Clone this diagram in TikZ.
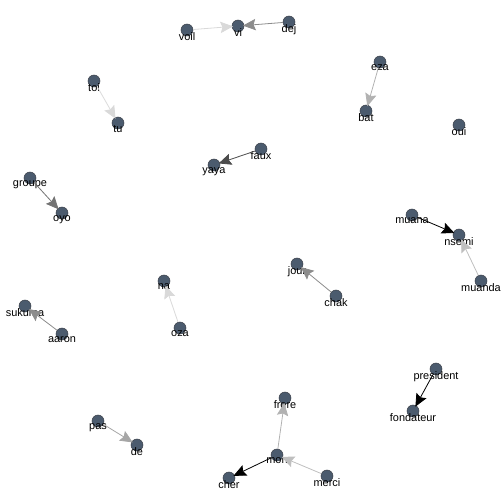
\documentclass[tikz,border=0pt]{standalone}
\usepackage{fontspec}
\setmainfont{Liberation Sans}
\usepackage{tikz}
\usetikzlibrary{arrows.meta}
\definecolor{vfill}{HTML}{4B5B6E}
\definecolor{vline}{HTML}{3A3F48}
\tikzset{every picture/.style={line width=0.75pt}}
\tikzset{vert/.style={circle,fill=vfill,draw=vline,line width=0.4pt,minimum size=9pt,inner sep=0pt},
	lbl/.style={font=\fontsize{8.2}{9}\selectfont,inner sep=0pt,text=black},
	every label/.style={lbl},
	label distance=-3.4pt,
	arr/.style={-{Stealth[length=9.5pt,width=8.5pt,inset=1.5pt]},line width=0.6pt,shorten >=-1pt}}

\begin{document}
\begin{tikzpicture}[x=0.75pt,y=0.75pt,yscale=-1,xscale=1]
		\useasboundingbox (0,0) rectangle (504,504);
		
		% Vertices
		\node [vert,label=below:voil] (voil) at (187,30) {};
		\node [vert,label=below:vi] (vi) at (238,26) {};
		\node [vert,label=below:dej] (dej) at (289,22) {};
		\node [vert,label=below:toi] (toi) at (94,81) {};
		\node [vert,label=below:tu] (tu) at (118,123) {};
		\node [vert,label=below:faux] (faux) at (261,149) {};
		\node [vert,label=below:yaya] (yaya) at (214,165) {};
		\node [vert,label=below:groupe] (groupe) at (30,178) {};
		\node [vert,label=below:oyo] (oyo) at (62,213) {};
		\node [vert,label=below:eza] (eza) at (380,62) {};
		\node [vert,label=below:bat] (bat) at (366,111) {};
		\node [vert,label=below:oui] (oui) at (459,125) {};
		\node [vert,label=below:muana] (muana) at (412,215) {};
		\node [vert,label=below:nsemi] (nsemi) at (459,235) {};
		\node [vert,label=below:muanda] (muanda) at (481,281) {};
		\node [vert,label=below:sukuma] (sukuma) at (25,306) {};
		\node [vert,label=below:aaron] (aaron) at (62,334) {};
		\node [vert,label=below:na] (na) at (164,281) {};
		\node [vert,label=below:oza] (oza) at (180,328) {};
		\node [vert,label=below:jour] (jour) at (297,264) {};
		\node [vert,label=below:chak] (chak) at (336,296) {};
		\node [vert,label=below:pas] (pas) at (98,421) {};
		\node [vert,label=below:de] (de) at (137,445) {};
		\node [vert,label=below:frere] (frere) at (285,398) {};
		\node [vert,label=below:mon] (mon) at (277,455) {};
		\node [vert,label=below:cher] (cher) at (229,478) {};
		\node [vert,label=below:merci] (merci) at (327,476) {};
		\node [vert,label=below:president] (president) at (436,369) {};
		\node [vert,label=below:fondateur] (fondateur) at (413,411) {};
		
		% Edges
		\draw [arr,black!15] (voil) -- (vi);
		\draw [arr,black!45] (dej) -- (vi);
		\draw [arr,black!15] (toi) -- (tu);
		\draw [arr,black!70] (faux) -- (yaya);
		\draw [arr,black!55] (groupe) -- (oyo);
		\draw [arr,black!30] (eza) -- (bat);
		\draw [arr,black] (muana) -- (nsemi);
		\draw [arr,black!25] (muanda) -- (nsemi);
		\draw [arr,black!45] (aaron) -- (sukuma);
		\draw [arr,black!15] (oza) -- (na);
		\draw [arr,black!45] (chak) -- (jour);
		\draw [arr,black!35] (pas) -- (de);
		\draw [arr,black!30] (mon) -- (frere);
		\draw [arr,black] (mon) -- (cher);
		\draw [arr,black!25] (merci) -- (mon);
		\draw [arr,black] (president) -- (fondateur);
		
\end{tikzpicture}
\end{document}
